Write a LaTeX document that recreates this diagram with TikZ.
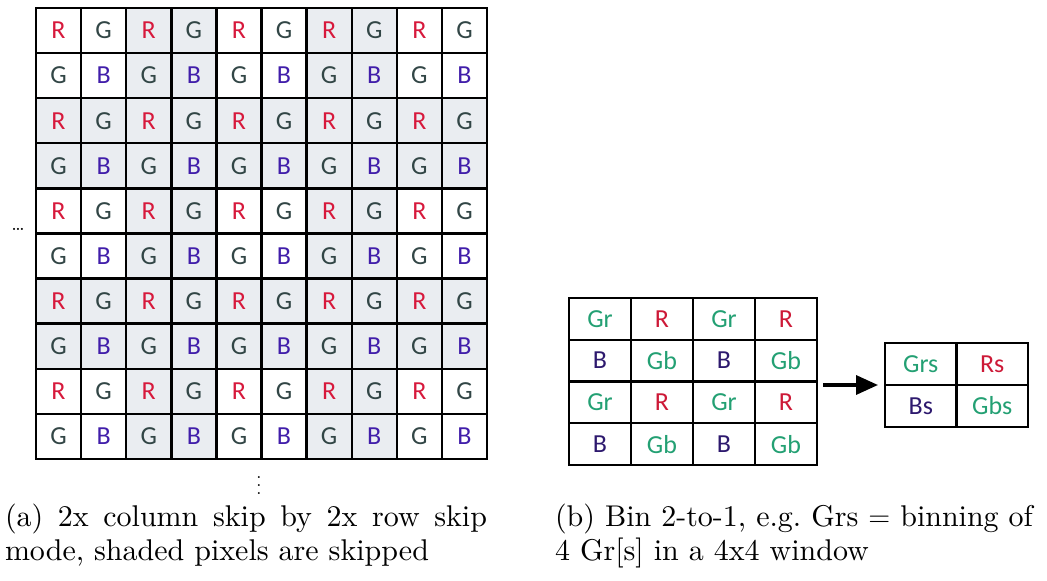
\documentclass[tikz,border=0pt]{standalone}
\usepackage{fontspec}
\newfontfamily\cellfont{Carlito}
\newfontfamily\capfont{lmroman10-regular.otf}
\usetikzlibrary{arrows.meta}
\definecolor{cR}{RGB}{215,25,60}
\definecolor{cG}{RGB}{50,70,70}
\definecolor{cB}{RGB}{65,30,170}
\definecolor{shade}{RGB}{234,237,241}
\definecolor{gGreen}{RGB}{35,160,115}
\definecolor{dR}{RGB}{205,25,55}
\definecolor{dB}{RGB}{45,25,110}
\hyphenpenalty=10000
\begin{document}
\begin{tikzpicture}[x=0.5pt,y=-0.5pt,
  cell/.style={draw=black, line width=1.2pt, inner sep=0pt, outer sep=0pt,
    font=\cellfont\fontsize{13}{14}\selectfont},
  acell/.style={cell, minimum width=22.55pt, minimum height=22.55pt},
  bcell/.style={cell, minimum width=31pt, minimum height=20.9pt},
  scell/.style={cell, minimum width=35.75pt, minimum height=21pt},
  caption/.style={anchor=north west, inner sep=0pt, outer sep=0pt,
    font=\capfont\fontsize{15}{17}\selectfont},
  arrowline/.style={line width=1.7pt, -{Triangle[length=11pt,width=9.5pt]}}]
\useasboundingbox (0,0) rectangle (1047,581);
\fill[white] (0,0) rectangle (1047,581);
% (a) grid
\foreach \r in {0,...,9}{\foreach \c in {0,...,9}{
  \pgfmathtruncatemacro\k{2*mod(\r,2)+mod(\c,2)}
  \pgfmathtruncatemacro\sk{max(mod(floor(\r/2),2),mod(floor(\c/2),2))}
  \ifcase\k \def\lt{R}\def\lc{cR}\or \def\lt{G}\def\lc{cG}\or \def\lt{G}\def\lc{cG}\or \def\lt{B}\def\lc{cB}\fi
  \ifnum\sk=1 \def\fc{shade}\else\def\fc{white}\fi
  \node[acell, fill=\fc, text=\lc] (a-\r-\c) at ({36+45.1*(\c+0.5)},{8+45.1*(\r+0.5)}) {\lt};
}}
\node[inner sep=0pt, font=\fontsize{10}{10}\selectfont] (hdots) at (18,229) {\dots};
\node[inner sep=0pt, font=\fontsize{9}{9}\selectfont] (vdots) at (259,480) {$\vdots$};
% (b) grid
\foreach \r in {0,...,3}{\foreach \c in {0,...,3}{
  \pgfmathtruncatemacro\k{2*mod(\r,2)+mod(\c,2)}
  \ifcase\k \def\lt{Gr}\def\lc{gGreen}\or \def\lt{R}\def\lc{dR}\or \def\lt{B}\def\lc{dB}\or \def\lt{Gb}\def\lc{gGreen}\fi
  \node[bcell, text=\lc] (b-\r-\c) at ({569+62*(\c+0.5)},{298+41.75*(\r+0.5)}) {\lt};
}}
% binned grid
\node[scell, text=gGreen] (s-0-0) at (920.75,364) {Grs};
\node[scell, text=dR] (s-0-1) at (992.25,364) {Rs};
\node[scell, text=dB] (s-1-0) at (920.75,406) {Bs};
\node[scell, text=gGreen] (s-1-1) at (992.25,406) {Gbs};
\draw[arrowline] ([xshift=3pt]b-1-3.south east |- s-0-0.south west) -- ([xshift=-3.5pt]s-0-0.south west);
% captions
\node[caption, text width=241pt, align=justify] (capa) at (5,503.5) {(a) 2x column skip by 2x row skip mode, shaded pixels are skipped};
\node[caption, text width=250pt, align=left] (capb) at (555,503.5) {(b) Bin 2-to-1, e.g.\ Grs $=$ binning of\\ 4 Gr[s] in a 4x4 window};
\end{tikzpicture}
\end{document}
